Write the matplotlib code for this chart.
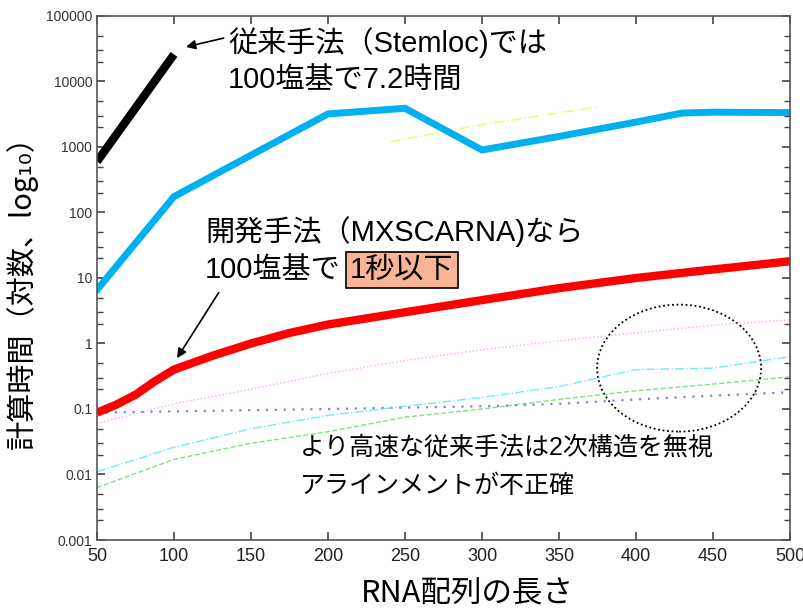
import matplotlib
matplotlib.use("Agg")
import matplotlib.pyplot as plt
from matplotlib.patches import Ellipse
from matplotlib.ticker import LogLocator, NullFormatter, FixedLocator

plt.rcParams['font.family'] = ['Liberation Sans', 'Noto Sans CJK JP', 'DejaVu Sans']

# 計算時間 (秒) vs RNA配列の長さ
length = [50, 100, 150, 200, 250, 300, 350, 400, 450, 500]

stemloc_x = [50, 100]
stemloc = [600, 25920]

blue_x = [50, 100, 150, 200, 250, 300, 350, 400, 430, 450, 500]
blue = [6.6, 175, 750, 3200, 3900, 900, 1450, 2400, 3300, 3400, 3350]

mxscarna_x = [50, 62, 75, 87, 100, 125, 150, 175, 200, 250, 300, 350, 400, 450, 500]
mxscarna = [0.088, 0.115, 0.165, 0.26, 0.40, 0.65, 1.0, 1.45, 1.95, 3.0, 4.6, 7.0,
            10.0, 13.5, 18.0]

magenta = [0.06, 0.12, 0.2, 0.35, 0.55, 0.8, 1.1, 1.45, 1.9, 2.3]
navy = [0.088, 0.092, 0.096, 0.10, 0.105, 0.11, 0.12, 0.14, 0.16, 0.18]
cyan = [0.011, 0.026, 0.05, 0.08, 0.11, 0.15, 0.22, 0.40, 0.42, 0.63]
green = [0.0063, 0.017, 0.03, 0.045, 0.075, 0.10, 0.14, 0.19, 0.24, 0.31]

yellow_x = [240, 300, 375]
yellow = [1200, 2200, 4100]

xticks = [50, 100, 150, 200, 250, 300, 350, 400, 450, 500]
yticks = [0.001, 0.01, 0.1, 1, 10, 100, 1000, 10000, 100000]
ytick_labels = ['0.001', '0.01', '0.1', '1', '10', '100', '1000', '10000', '100000']

fig = plt.figure(figsize=(8.04, 6.14), dpi=100)
ax = fig.add_axes([97 / 804, 1 - 540 / 614, 693 / 804, 524 / 614])

# 高速な従来手法 (薄い線)
ax.plot(length, magenta, color='#ff66ff', lw=1.0, ls=':', alpha=0.6)
ax.plot(length, navy, color='#5050b0', lw=1.6, ls=(0, (1, 3)), alpha=0.7)
ax.plot(length, cyan, color='#33e0ff', lw=1.0, ls='-.', alpha=0.7)
ax.plot(length, green, color='#33cc33', lw=1.0, ls='--', alpha=0.6)
ax.plot(yellow_x, yellow, color='#f0f000', lw=1.2, ls='-.', alpha=0.5)

ax.plot(stemloc_x, stemloc, color='black', lw=6, solid_capstyle='butt')
ax.plot(blue_x, blue, color='#00b0f0', lw=5, solid_joinstyle='miter')
ax.plot(mxscarna_x, mxscarna, color='#ff0000', lw=6, solid_capstyle='butt',
        solid_joinstyle='round')

ax.set_yscale('log')
ax.set_xlim(50, 500)
ax.set_ylim(0.001, 100000)
ax.xaxis.set_major_locator(FixedLocator(xticks))
ax.set_xticklabels([str(v) for v in xticks], fontsize=13, color='#222222',
                   family=['Liberation Sans Narrow', 'Liberation Sans'])
ax.yaxis.set_major_locator(FixedLocator(yticks))
ax.set_yticklabels(ytick_labels, fontsize=10, color='#333333')
ax.yaxis.set_minor_locator(LogLocator(base=10, subs=(2, 3, 5), numticks=20))
ax.yaxis.set_minor_formatter(NullFormatter())
ax.tick_params(axis='both', which='both', direction='in', top=True, right=True,
               color='#444444')
ax.tick_params(axis='both', which='major', length=6, width=1.2)
ax.tick_params(axis='y', which='minor', length=4, width=1.0)
ax.tick_params(axis='x', which='major', pad=6)
for s in ax.spines.values():
    s.set_color('#555555')
    s.set_linewidth(1.2)

# 注釈
ax.annotate('', xy=(106, 33000), xytext=(134, 47000),
            arrowprops=dict(arrowstyle='-|>', color='black', lw=1.2, mutation_scale=14))
fig.text(228 / 804, 1 - 43 / 614, '従来手法（Stemloc)では', fontsize=21, va='center')
fig.text(228 / 804, 1 - 80 / 614, '100塩基で7.2時間', fontsize=21, va='center')

fig.text(205 / 804, 1 - 232 / 614, '開発手法（MXSCARNA)なら', fontsize=21, va='center')
fig.text(205 / 804, 1 - 270 / 614, '100塩基で', fontsize=21, va='center')
fig.text(350 / 804, 1 - 270 / 614, '1秒以下', fontsize=21, va='center',
         bbox=dict(boxstyle='square,pad=0.14', facecolor='#f8b596', edgecolor='black', lw=1.2))
ax.annotate('', xy=(101, 0.55), xytext=(130, 6.5),
            arrowprops=dict(arrowstyle='-|>', color='black', lw=1.2, mutation_scale=14))

fig.text(300 / 804, 1 - 448 / 614, 'より高速な従来手法は2次構造を無視', fontsize=18, va='center')
fig.text(300 / 804, 1 - 486 / 614, 'アラインメントが不正確', fontsize=18, va='center')

ax.add_patch(Ellipse((0.84, 0.328), 164 / 693, 127 / 524, transform=ax.transAxes,
                     fill=False, edgecolor='black', lw=1.3, ls=(0, (1, 1.5))))

fig.text(22 / 804, 1 - 285 / 614, '計算時間（対数、log₁₀）', fontsize=21, rotation=90,
         va='center', ha='center', family=['Noto Sans CJK JP', 'DejaVu Sans'])
fig.text(467 / 804, 1 - 594 / 614, 'RNA配列の長さ', fontsize=22, ha='center', va='center',
         family=['Liberation Sans Narrow', 'Noto Sans CJK JP'])

fig.savefig('out.png', dpi=100)
